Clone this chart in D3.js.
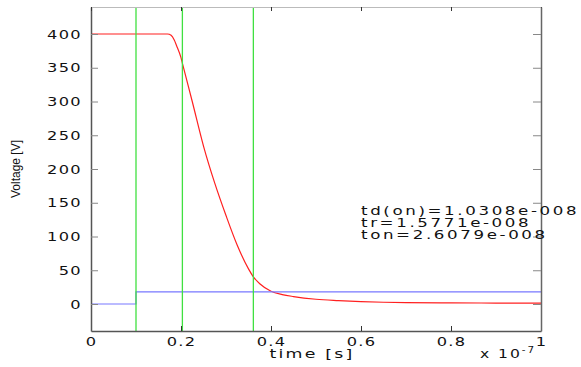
<!DOCTYPE html>
<html>
<head>
<meta charset="utf-8">
<script src="https://cdn.jsdelivr.net/npm/d3@7"></script>
<style>
  body { margin: 0; background: #fff; }
  svg { display: block; }
  .tick text { font-family: "DejaVu Sans", sans-serif; font-size: 12.5px; letter-spacing: 1px; fill: #111; }
</style>
</head>
<body>
<div id="app"></div>
<script>
// time axis values in units of 1e-7 s
const redT = [0, 0.17, 0.178, 0.185, 0.19, 0.2, 0.203, 0.225, 0.25, 0.275, 0.3, 0.325, 0.35, 0.36, 0.375, 0.4, 0.425, 0.45, 0.5, 0.55, 0.6, 0.65, 0.7, 0.8, 0.9, 1.0]
const redV = [400, 400, 398, 391, 383, 365, 357, 300, 234, 179, 131, 87, 52, 41, 30, 19, 14, 11, 7, 5, 3.5, 2.6, 2, 1.6, 1.4, 1.2]
const blueT = [0, 0.1, 0.1, 1.0]
const blueV = [0, 0, 18, 18]
const markers = [0.1, 0.20308, 0.36079]
const xTicks = [0, 0.2, 0.4, 0.6, 0.8, 1]
const yTicks = [0, 50, 100, 150, 200, 250, 300, 350, 400]
const notes = ["td(on)=1.0308e-008", "tr=1.5771e-008", "ton=2.6079e-008"]

const width = 581
const height = 367
const marginLeft = 91
const marginRight = 40
const marginTop = 7
const marginBottom = 36
const stretch = 1.3 // the original font is drawn wide

const x = d3.scaleLinear().domain([0, 1]).range([marginLeft, width - marginRight])
const y = d3.scaleLinear().domain([-40, 440]).range([height - marginBottom, marginTop])

const svg = d3.select("#app").append("svg")
  .attr("width", width)
  .attr("height", height)

// data lines
const smooth = d3.line().x(d => x(d[0])).y(d => y(d[1])).curve(d3.curveMonotoneX)
const straight = d3.line().x(d => x(d[0])).y(d => y(d[1]))

svg.append("path")
  .datum(redT.map((t, i) => [t, redV[i]]))
  .attr("fill", "none")
  .attr("stroke", "#ff2020")
  .attr("stroke-width", 1.2)
  .attr("d", smooth)

svg.append("path")
  .datum(blueT.map((t, i) => [t, blueV[i]]))
  .attr("fill", "none")
  .attr("stroke", "#7878ff")
  .attr("stroke-width", 1.2)
  .attr("d", straight)

svg.selectAll(".marker").data(markers).join("line")
  .attr("class", "marker")
  .attr("x1", d => x(d)).attr("x2", d => x(d))
  .attr("y1", y(440)).attr("y2", y(-40))
  .attr("stroke", "#40e040")
  .attr("stroke-width", 1.3)

// axes
const xAxis = svg.append("g")
  .attr("transform", `translate(0,${height - marginBottom})`)
  .call(d3.axisBottom(x).tickValues(xTicks).tickFormat(d3.format("")).tickSizeInner(-5).tickSizeOuter(0).tickPadding(6))
xAxis.select(".domain").attr("stroke", "#555").attr("stroke-width", 1.5)
xAxis.selectAll(".tick line").attr("stroke", "#333")
xAxis.selectAll(".tick text").attr("transform", `scale(${stretch},1)`)

const yAxis = svg.append("g")
  .attr("transform", `translate(${marginLeft},0)`)
  .call(d3.axisLeft(y).tickValues(yTicks).tickSizeInner(-7).tickSizeOuter(0))
yAxis.select(".domain").attr("stroke", "#555").attr("stroke-width", 1.5)
yAxis.selectAll(".tick line").attr("stroke", "#888")
yAxis.selectAll(".tick text")
  .attr("x", -9 / stretch)
  .attr("transform", `scale(${stretch},1)`)

// mirrored box
const topAxis = svg.append("g")
  .attr("transform", `translate(0,${marginTop})`)
  .call(d3.axisTop(x).tickValues(xTicks).tickFormat("").tickSizeInner(-4).tickSizeOuter(0))
topAxis.select(".domain").attr("stroke", "#bbb").attr("stroke-width", 1.2)
topAxis.selectAll(".tick line").attr("stroke", "#333")

const rightAxis = svg.append("g")
  .attr("transform", `translate(${width - marginRight},0)`)
  .call(d3.axisRight(y).tickValues(yTicks).tickFormat("").tickSizeInner(-8).tickSizeOuter(0))
rightAxis.select(".domain").attr("stroke", "#666").attr("stroke-width", 1.5)
rightAxis.selectAll(".tick line").attr("stroke", "#888")

// labels
const textStyle = sel => sel
  .style("font-family", "DejaVu Sans, sans-serif")
  .style("font-size", "12px")
  .style("letter-spacing", "1.5px")
  .style("fill", "#111")

svg.append("g")
  .attr("transform", `translate(312,358) scale(1.45,1)`)
  .append("text")
  .attr("text-anchor", "middle")
  .call(textStyle)
  .text("time [s]")

const sci = svg.append("g")
  .attr("transform", `translate(480,358) scale(${stretch},1)`)
  .append("text")
  .call(textStyle)
sci.append("tspan").text("x 10")
sci.append("tspan").attr("dy", -5).style("font-size", "8px").text("-7")

svg.append("text")
  .attr("transform", `translate(20,169) rotate(-90)`)
  .attr("text-anchor", "middle")
  .style("font-family", "Liberation Sans Narrow, Liberation Sans, sans-serif")
  .style("font-size", "12px")
  .style("fill", "#111")
  .text("Voltage [V]")

svg.append("g")
  .attr("transform", `translate(361,0) scale(1.45,1)`)
  .selectAll(".note").data(notes).join("text")
  .attr("class", "note")
  .attr("y", (d, i) => 215 + i * 12)
  .call(textStyle)
  .style("font-size", "11.5px")
  .style("letter-spacing", "1.8px")
  .text(d => d)
</script>
</body>
</html>
